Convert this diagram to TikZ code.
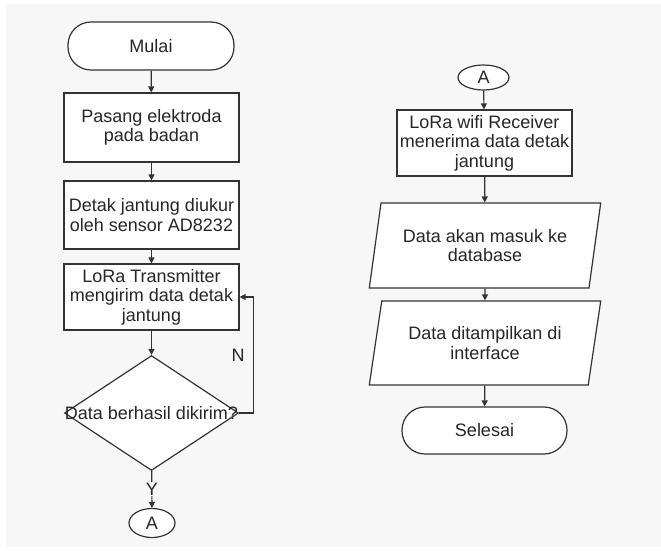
\documentclass[tikz,border=0pt]{standalone}
\usepackage{fontspec}
\setmainfont{Liberation Sans}
\usetikzlibrary{shapes.geometric,arrows.meta}
\definecolor{bgc}{HTML}{F7F7F7}
\definecolor{lnc}{HTML}{333333}
\definecolor{txc}{HTML}{262626}
\begin{document}
\begin{tikzpicture}[x=1pt,y=-1pt,
  base/.style={draw=lnc, line width=1.2pt, fill=white, text=txc,
    font=\fontsize{18}{19.5}\selectfont, align=center, inner sep=0pt},
  term/.style={base, rectangle, rounded corners=23pt, minimum width=166pt, minimum height=48pt},
  procbox/.style={base, rectangle, minimum width=175pt},
  conn/.style={base, ellipse},
  iobox/.style={base, trapezium, trapezium left angle=74.2, trapezium right angle=105.8,
    trapezium stretches=true, minimum width=232pt},
  dec/.style={base, diamond, minimum width=174pt, minimum height=115pt},
  lbl/.style={text=txc, font=\fontsize{18}{19.5}\selectfont, inner sep=0pt},
  arr/.style={draw=lnc, line width=1.2pt, -{Triangle[length=6pt,width=6pt]}},
]
\useasboundingbox (0,0) rectangle (661,550);
\fill[white] (0,0) rectangle (661,550);
\fill[bgc] (6,4) rectangle (661,547);

% left column
\node[term] (mulai) at (151,46) {Mulai};
\node[procbox, minimum height=69pt] (b1) at (151.5,127.5) {Pasang elektroda\\pada badan};
\node[procbox, minimum height=68pt] (b2) at (151.5,215) {Detak jantung diukur\\oleh sensor AD8232};
\node[procbox, minimum height=66pt] (b3) at (151.5,297) {LoRa Transmitter\\mengirim data detak\\jantung};
\node[dec] (d) at (151.5,413) {};
\node[lbl] (dt) at (151.5,413) {Data berhasil dikirim?};
\node[conn, minimum width=46pt, minimum height=29pt] (ay) at (152,523) {A};

\draw[arr] (mulai) -- (b1);
\draw[arr] (b1) -- (b2);
\draw[arr] (b2) -- (b3);
\draw[arr] (b3) -- (d);
\draw[arr] (d.east) -- ++(14,0) |- (b3.east);
\node[lbl] (nl) at (238,355) {N};
\draw[arr] (d) -- (ay);
\node[lbl, fill=bgc, inner ysep=1pt] (yl) at (152,489) {Y};

% right column
\node[conn, minimum width=51pt, minimum height=25pt] (ar) at (483.5,77.5) {A};
\node[procbox, minimum height=66pt] (r1) at (484.5,143) {LoRa wifi Receiver\\menerima data detak\\jantung};
\node[iobox, minimum height=85pt] (p1) at (485,245.5) {Data akan masuk ke\\database};
\node[iobox, minimum height=84pt] (p2) at (485,343) {Data ditampilkan di\\interface};
\node[term, minimum width=165pt, minimum height=47pt] (sel) at (484.5,430.5) {Selesai};

\draw[arr] (ar) -- (r1);
\draw[arr] (r1) -- (p1);
\draw[arr] (p1) -- (p2);
\draw[arr] (p2) -- (sel);
\end{tikzpicture}
\end{document}
